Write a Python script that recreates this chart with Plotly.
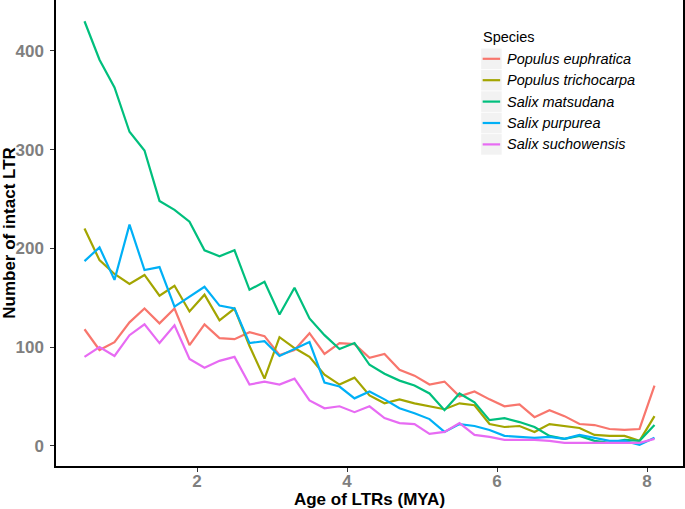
import plotly.graph_objects as go

ages = [0.5, 0.7, 0.9, 1.1, 1.3, 1.5, 1.7, 1.9, 2.1, 2.3, 2.5, 2.7, 2.9, 3.1, 3.3,
        3.5, 3.7, 3.9, 4.1, 4.3, 4.5, 4.7, 4.9, 5.1, 5.3, 5.5, 5.7, 5.9, 6.1, 6.3,
        6.5, 6.7, 6.9, 7.1, 7.3, 7.5, 7.7, 7.9, 8.1]

populus_euphratica = [118, 97, 105, 125, 139, 124, 139, 102, 123, 109, 108, 115, 111, 92, 97,
                      114, 93, 104, 103, 89, 93, 77, 71, 62, 65, 50, 55, 47, 40, 42,
                      29, 36, 30, 22, 21, 17, 16, 17, 61]
populus_trichocarpa = [220, 188, 174, 164, 173, 152, 162, 136, 153, 127, 139, 101, 68, 110, 99,
                       90, 72, 62, 69, 51, 43, 47, 43, 40, 37, 43, 41, 22, 19, 20,
                       14, 22, 20, 18, 11, 10, 10, 5, 30]
salix_matsudana = [430, 391, 363, 318, 299, 248, 239, 227, 198, 192, 198, 158, 166, 133, 160,
                   129, 112, 98, 104, 82, 73, 66, 61, 53, 36, 53, 44, 26, 28, 24,
                   19, 10, 7, 10, 5, 3, 6, 5, 21]
salix_purpurea = [187, 201, 168, 224, 178, 181, 141, 151, 161, 142, 139, 104, 106, 91, 98,
                  105, 64, 60, 48, 55, 47, 38, 33, 27, 14, 22, 20, 16, 10, 9,
                  8, 9, 7, 11, 8, 5, 5, 1, 8]
salix_suchowensis = [90, 100, 91, 112, 123, 104, 122, 88, 79, 86, 90, 62, 65, 62, 68,
                     46, 38, 40, 34, 40, 28, 23, 22, 12, 14, 23, 11, 9, 6, 6,
                     6, 5, 3, 3, 3, 3, 3, 3, 7]

species = ["Populus euphratica", "Populus trichocarpa", "Salix matsudana",
           "Salix purpurea", "Salix suchowensis"]
series = [populus_euphratica, populus_trichocarpa, salix_matsudana,
          salix_purpurea, salix_suchowensis]
colors = ["#F8766D", "#A3A500", "#00BF7D", "#00B0F6", "#E76BF3"]

y_ticks = [0, 100, 200, 300, 400]
x_ticks = [2, 4, 6, 8]

W, H = 685, 509
ML, MR, MT, MB = 56, 1.5, 0, 43
PW, PH = W - ML - MR, H - MT - MB

FONT = "Liberation Sans, Arial, Helvetica, sans-serif"

fig = go.Figure()
for name, vals, col in zip(species, series, colors):
    fig.add_trace(go.Scatter(x=ages, y=vals, mode="lines", name=name,
                             line=dict(color=col, width=2.2), showlegend=False))


def px_x(p):
    return (p - ML) / PW


def px_y(p):
    return 1 - (p - MT) / PH


shapes = []
annotations = []
annotations.append(dict(text="Species", x=px_x(481), y=px_y(37), xref="paper", yref="paper",
                        xanchor="left", yanchor="middle", showarrow=False,
                        font=dict(family=FONT, size=14.5, color="#000000")))
for i, (name, col) in enumerate(zip(species, colors)):
    top = 48.5 + i * 21.4
    bot = top + 20.6
    cy = (top + bot) / 2
    shapes.append(dict(type="rect", xref="paper", yref="paper",
                       x0=px_x(481.5), x1=px_x(502), y0=px_y(bot), y1=px_y(top),
                       fillcolor="#F2F2F2", line=dict(color="white", width=0), layer="above"))
    shapes.append(dict(type="line", xref="paper", yref="paper",
                       x0=px_x(483), x1=px_x(500.5), y0=px_y(cy), y1=px_y(cy),
                       line=dict(color=col, width=2.2), layer="above"))
    annotations.append(dict(text="<i>%s</i>" % name, x=px_x(505), y=px_y(cy),
                            xref="paper", yref="paper", xanchor="left", yanchor="middle",
                            showarrow=False,
                            font=dict(family=FONT, size=14.5, color="#000000")))

axis_common = dict(showgrid=False, zeroline=False, showline=True, mirror=True,
                   linecolor="#000000", linewidth=1.5, ticks="outside", ticklen=4,
                   tickwidth=1, tickcolor="#333333", automargin=False,
                   tickfont=dict(family=FONT, size=17, color="#7F7F7F", weight="bold"))

fig.update_layout(
    width=W, height=H,
    margin=dict(l=ML, r=MR, t=MT, b=MB, pad=0, autoexpand=False),
    paper_bgcolor="white", plot_bgcolor="white",
    xaxis=dict(range=[0.12, 8.48], tickvals=x_ticks, ticktext=[str(v) for v in x_ticks],
               ticklabelstandoff=-5,
               title=dict(text="Age of LTRs (MYA)", standoff=3,
                          font=dict(family=FONT, size=17, color="#000000", weight="bold")),
               **axis_common),
    yaxis=dict(range=[-20.5, 451.5], tickvals=y_ticks, ticktext=[str(v) for v in y_ticks],
               ticklabelstandoff=3,
               title=dict(text="Number of intact LTR", standoff=2,
                          font=dict(family=FONT, size=17, color="#000000", weight="bold")),
               **axis_common),
    shapes=shapes, annotations=annotations, showlegend=False,
)

fig.write_html("out.html", config={"displayModeBar": False},
               post_script="document.body.style.margin='0';document.body.style.overflow='hidden';")
